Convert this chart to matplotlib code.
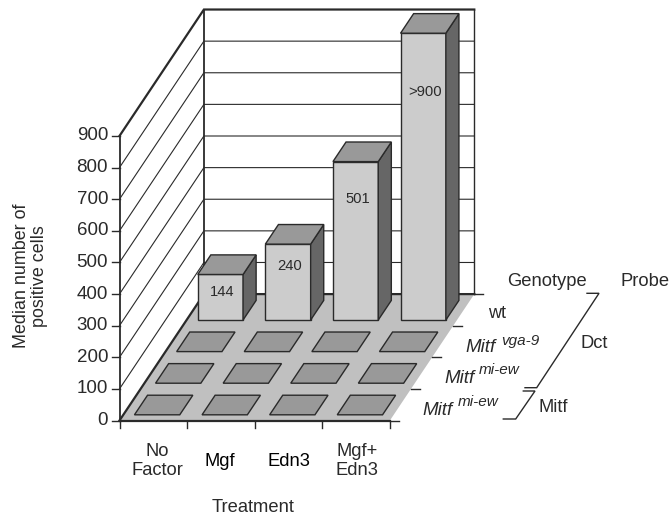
import matplotlib
matplotlib.use('Agg')
import matplotlib.pyplot as plt
from matplotlib.patches import Polygon

plt.rcParams['font.family'] = ['Liberation Sans', 'DejaVu Sans']

treatments = ['No\nFactor', 'Mgf', 'Edn3', 'Mgf+\nEdn3']
value_ticks = [0, 100, 200, 300, 400, 500, 600, 700, 800, 900]
# rows run front to back, values are per treatment
rows = ['Mitf', 'Mitf', 'Mitf', 'wt']
row_sup = ['mi-ew', 'mi-ew', 'vga-9', '']
values = [[0, 0, 0, 0],
          [0, 0, 0, 0],
          [0, 0, 0, 0],
          [144, 240, 501, 907]]
bar_text = ['144', '240', '501', '>900']

# oblique projection, in pixels of the picture
x0, y0 = 119.5, 420.5
cat_w = 67.6
row_dx, row_dy = 21.1, -31.6
px_per_unit = 0.3162


def proj(c, r, v=0):
    return (x0 + c * cat_w + r * row_dx, y0 + r * row_dy - v * px_per_unit)


fig = plt.figure(figsize=(6.7, 5.17), dpi=100)
ax = fig.add_axes([0, 0, 1, 1])
ax.set_xlim(0, 670)
ax.set_ylim(517, 0)
ax.axis('off')

dark = '#2a2a2a'
nc, nr = len(treatments), len(rows)


def line(pts, lw=1.0, z=2):
    ax.plot([p[0] for p in pts], [p[1] for p in pts], color=dark, lw=lw, zorder=z,
            solid_capstyle='projecting', solid_joinstyle='miter')


# floor
ax.add_patch(Polygon([proj(0, 0), proj(nc, 0), proj(nc, nr), proj(0, nr)], fc='#c0c0c0', ec='none', zorder=1))

# walls
for v in value_ticks[1:-1]:
    line([proj(0, 0, v), proj(0, nr, v), proj(nc, nr, v)], lw=0.8)
line([proj(0, 0, 0), proj(0, 0, 900)], lw=1.3)
line([proj(0, nr, 0), proj(0, nr, 900)], lw=1.3)
line([proj(nc, nr, 0), proj(nc, nr, 900)], lw=1.0)
line([proj(0, 0, 900), proj(0, nr, 900), proj(nc, nr, 900)], lw=1.6)
line([proj(0, 0, 0), proj(0, nr, 0), proj(nc, nr, 0)], lw=1.6)
line([proj(0, 0, 0), proj(nc, 0, 0)], lw=1.6)

# ticks
for v in value_ticks:
    x, y = proj(0, 0, v)
    line([(x - 8, y), (x, y)], lw=1.0)
    ax.text(x - 11.5, y, str(v), ha='right', va='center', fontsize=13.5, color=dark)
for c in range(nc + 1):
    x, y = proj(c, 0)
    line([(x, y), (x, y + 7)], lw=1.0)
for r in range(nr + 1):
    x, y = proj(nc, r)
    line([(x, y), (x + 9, y)], lw=1.0)

# bars, back row first
cl, cr = 0.165, 0.835
rl, rr = 0.18, 0.80
label_drop = [18, 22, 37, 59]
zz = 5
for r in range(nr - 1, -1, -1):
    for c in range(nc):
        v = values[r][c]
        ec = dict(ec=dark, lw=1.0, joinstyle='miter')
        if v > 0:
            ax.add_patch(Polygon([proj(c + cl, r + rl), proj(c + cr, r + rl), proj(c + cr, r + rl, v), proj(c + cl, r + rl, v)],
                                 fc='#cccccc', zorder=zz, **ec))
            ax.add_patch(Polygon([proj(c + cr, r + rl), proj(c + cr, r + rr), proj(c + cr, r + rr, v), proj(c + cr, r + rl, v)],
                                 fc='#666666', zorder=zz, **ec))
        ax.add_patch(Polygon([proj(c + cl, r + rl, v), proj(c + cr, r + rl, v), proj(c + cr, r + rr, v), proj(c + cl, r + rr, v)],
                             fc='#999999', zorder=zz, **ec))
        if v > 0:
            x, y = proj(c + 0.5, r + rl, v)
            ax.text(x + 2, y + label_drop[c], bar_text[c], ha='center', va='center', fontsize=10.6, color=dark, zorder=zz + 1)

# treatment labels
label_x = [157, 219.5, 289, 357]
label_col = [dark, 'black', 'black', dark]
for c, t in enumerate(treatments):
    ax.text(label_x[c], 461, t, ha='center', va='center', fontsize=13.2, color=label_col[c], linespacing=1.12)

# row labels
ax.text(488, 313, rows[3], ha='left', va='center', fontsize=13, color=dark)
name_pos = [(422.7, 415), (444, 382.7), (465, 351.7)]
sup_pos = [(458, 405.7), (479, 374), (500.7, 345)]
for i in range(3):
    ax.text(name_pos[i][0], name_pos[i][1], rows[i], style='italic', ha='left', va='baseline', fontsize=13.5, color=dark)
    ax.text(sup_pos[i][0], sup_pos[i][1], row_sup[i], style='italic', ha='left', va='baseline', fontsize=11, color=dark)

# probe brackets
line([(587, 293.3), (599, 293.3), (536.7, 387.7), (525, 387.7)], lw=1.0)
line([(523.3, 391), (535, 391), (515.7, 419), (503.3, 419)], lw=1.0)

ax.text(507.5, 281, 'Genotype', ha='left', va='center', fontsize=13.2, color=dark)
ax.text(620.5, 281, 'Probe', ha='left', va='center', fontsize=13.2, color=dark)
ax.text(580, 343, 'Dct', ha='left', va='center', fontsize=13.2, color=dark)
ax.text(538, 407.5, 'Mitf', ha='left', va='center', fontsize=13.2, color=dark)
ax.text(253, 508, 'Treatment', ha='center', va='center', fontsize=13.2, color=dark)
ax.text(30.5, 276, 'Median number of\npositive cells', rotation=90, ha='center', va='center',
        fontsize=12.9, color=dark, linespacing=1.15)

fig.savefig('out.png', dpi=100)
